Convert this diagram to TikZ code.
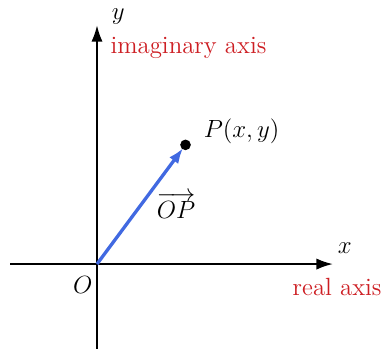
\documentclass[tikz,border=0pt]{standalone}
\usepackage{amsmath}
\usepackage{tikz}
\usetikzlibrary{arrows.meta, positioning}
\definecolor{axisred}{RGB}{205,30,35}
\definecolor{vecblue}{RGB}{65,105,225}

\begin{document}
\begin{tikzpicture}[font=\large,
    axis/.style={-{Latex[length=2.8mm,width=1.9mm]}, line width=1pt},
    redlabel/.style={axisred}]
    \useasboundingbox (-1.644,-1.424) rectangle (4.881,4.475);

    % Axes
    \coordinate (O) at (0,0);
    \coordinate (xmin) at (-1.47,0);
    \coordinate (xmax) at (4.0,0);
    \coordinate (ymin) at (0,-1.45);
    \coordinate (ymax) at (0,4.05);
    \draw[axis] (xmin) -- (xmax);
    \draw[axis] (ymin) -- (ymax);
    \node (xlab) at (4.2,0.27) {$x$};
    \node (ylab) at (0.36,4.19) {$y$};
    \node[redlabel] (realax) at (4.07,-0.39) {real axis};
    \node[redlabel] (imagax) at (1.55,3.66) {imaginary axis};
    \node (olab) at (-0.24,-0.36) {$O$};

    % Point P and vector OP
    \fill (1.5,2.02) circle (0.09) coordinate (P);
    \node (plab) at (2.45,2.25) {$P(x,y)$};
    \draw[-{Latex[length=2.6mm,width=1.9mm]}, vecblue, line width=1.6pt, shorten >=2pt] (O) -- (P);
    \node (oplab) at (1.34,1.0) {$\overrightarrow{OP}$};
\end{tikzpicture}
\end{document}
